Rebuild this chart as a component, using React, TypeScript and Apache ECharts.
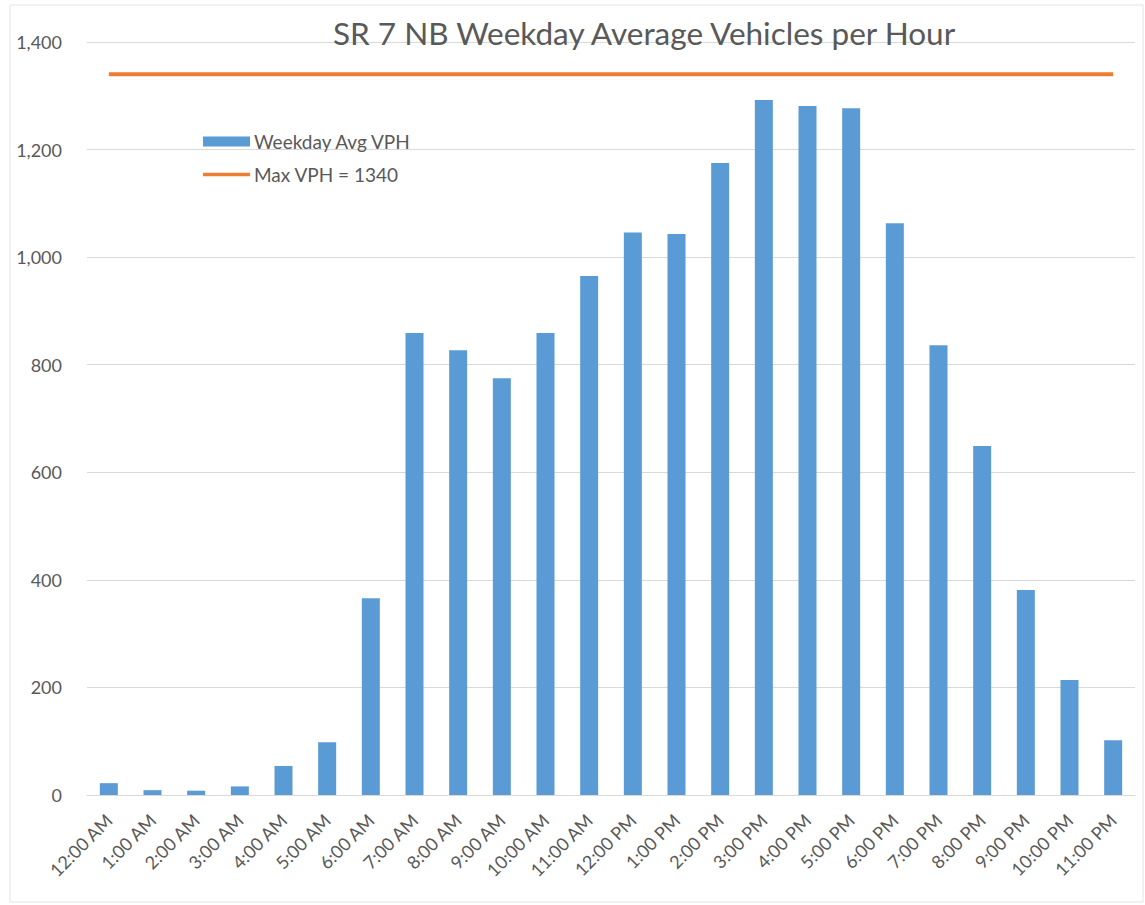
import React, { useEffect, useRef } from "react";
import * as echarts from "echarts";

const categories = [
  "12:00 AM", "1:00 AM", "2:00 AM", "3:00 AM", "4:00 AM", "5:00 AM",
  "6:00 AM", "7:00 AM", "8:00 AM", "9:00 AM", "10:00 AM", "11:00 AM",
  "12:00 PM", "1:00 PM", "2:00 PM", "3:00 PM", "4:00 PM", "5:00 PM",
  "6:00 PM", "7:00 PM", "8:00 PM", "9:00 PM", "10:00 PM", "11:00 PM",
];
const weekdayAvgVph = [
  22, 9, 8, 16, 54, 98, 366, 859, 827, 775, 859, 965,
  1046, 1043, 1175, 1292, 1281, 1277, 1063, 836, 649, 381, 214, 102,
];
const maxVph = [
  1340, 1340, 1340, 1340, 1340, 1340, 1340, 1340, 1340, 1340, 1340, 1340,
  1340, 1340, 1340, 1340, 1340, 1340, 1340, 1340, 1340, 1340, 1340, 1340,
];

export default function App() {
  const ref = useRef<HTMLDivElement>(null);
  useEffect(() => {
    if (!ref.current) return;
    const chart = echarts.init(ref.current, null, { renderer: "svg" });
    chart.setOption({
      animation: false,
      backgroundColor: "#ffffff",
      textStyle: { fontFamily: "Lato" },
      title: {
        text: "SR 7 NB Weekday Average Vehicles per Hour",
        left: 639,
        textAlign: "center",
        top: 12,
        textStyle: { fontFamily: "Lato", fontSize: 31.5, fontWeight: "normal", color: "#595959" },
      },
      graphic: [
        {
          type: "rect",
          shape: { x: 10, y: 5, width: 1133, height: 897 },
          style: { fill: "none", stroke: "#e3e3e3", lineWidth: 1 },
          silent: true,
        },
      ],
      legend: {
        orient: "vertical",
        left: 198,
        top: 127,
        itemGap: 14,
        itemWidth: 47,
        itemHeight: 10,
        textStyle: { fontFamily: "Lato", fontSize: 19, color: "#595959", padding: [0, 0, 0, -1] },
        data: [
          { name: "Weekday Avg VPH", icon: "rect" },
          { name: "Max VPH = 1340", icon: "path://M0,0 L50,0 L50,3.5 L0,3.5 Z" },
        ],
      },
      grid: { left: 87, right: 10, top: 42, bottom: 110, containLabel: false },
      xAxis: {
        type: "category",
        data: categories,
        axisTick: { show: false },
        axisLine: { lineStyle: { color: "#d9d9d9", width: 1 } },
        axisLabel: {
          rotate: 45,
          interval: 0,
          fontFamily: "Lato",
          fontSize: 18,
          color: "#595959",
          margin: 22,
        },
      },
      yAxis: {
        type: "value",
        min: 0,
        max: 1400,
        interval: 200,
        axisLine: { show: false },
        axisTick: { show: false },
        splitLine: { lineStyle: { color: "#d9d9d9", width: 1 } },
        axisLabel: {
          fontFamily: "Lato",
          fontSize: 18,
          color: "#595959",
          margin: 25,
          formatter: (v: number) => v.toLocaleString("en-US"),
        },
      },
      series: [
        {
          name: "Weekday Avg VPH",
          type: "bar",
          data: weekdayAvgVph,
          barWidth: 18,
          itemStyle: { color: "#5B9BD5" },
        },
        {
          name: "Max VPH = 1340",
          type: "line",
          data: maxVph,
          symbol: "none",
          lineStyle: { color: "#ED7D31", width: 4 },
          itemStyle: { color: "#ED7D31" },
        },
      ],
    });
    return () => chart.dispose();
  }, []);
  return (
    <div
      ref={ref}
      style={{ position: "absolute", left: 0, top: 0, width: 1145, height: 905 }}
    />
  );
}
